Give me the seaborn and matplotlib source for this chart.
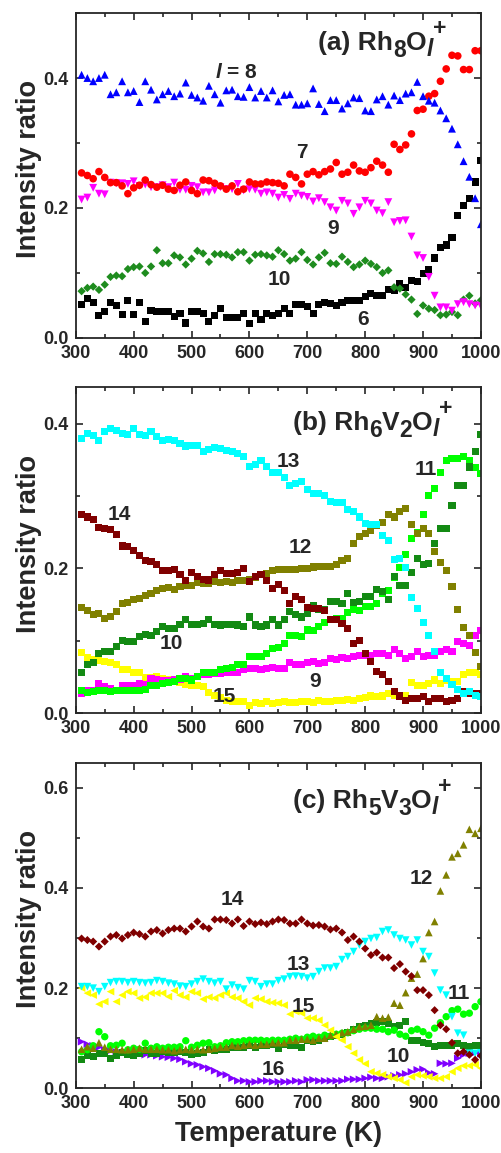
import numpy as np
import pandas as pd
import matplotlib
matplotlib.use("Agg")
import matplotlib.pyplot as plt
import matplotlib.transforms as mtransforms
from matplotlib.ticker import MultipleLocator
import seaborn as sns

# ---------------- data ----------------
T = list(range(310, 1001, 10))  # temperature grid (K)

# Panel (a) Rh8Ol+
a_l8 = [0.405,0.400,0.395,0.400,0.405,0.375,0.378,0.395,0.378,0.380,
        0.363,0.395,0.382,0.367,0.375,0.380,0.372,0.376,0.393,0.374,
        0.370,0.365,0.388,0.375,0.362,0.381,0.382,0.372,0.371,0.386,
        0.370,0.380,0.370,0.381,0.364,0.374,0.375,0.359,0.359,0.361,
        0.384,0.360,0.349,0.366,0.366,0.353,0.361,0.370,0.369,0.350,
        0.349,0.367,0.372,0.359,0.373,0.366,0.376,0.378,0.394,0.372,
        0.365,0.362,0.350,0.338,0.322,0.298,0.272,0.248,0.215,0.175]
a_l7 = [0.254,0.250,0.245,0.256,0.247,0.239,0.239,0.234,0.222,0.231,
        0.235,0.243,0.236,0.232,0.235,0.229,0.227,0.235,0.240,0.227,
        0.222,0.243,0.242,0.238,0.234,0.229,0.234,0.225,0.229,0.240,
        0.237,0.237,0.240,0.239,0.238,0.234,0.252,0.247,0.237,0.252,
        0.256,0.251,0.256,0.260,0.270,0.252,0.255,0.266,0.257,0.255,
        0.262,0.272,0.266,0.255,0.298,0.290,0.297,0.314,0.350,0.352,
        0.372,0.376,0.395,0.414,0.435,0.434,0.413,0.413,0.442,0.442]
a_l9 = [0.213,0.216,0.231,0.222,0.221,0.239,0.238,0.238,0.237,0.241,
        0.234,0.236,0.232,0.232,0.235,0.232,0.239,0.228,0.228,0.234,
        0.232,0.224,0.224,0.227,0.232,0.229,0.229,0.237,0.227,0.229,
        0.228,0.222,0.224,0.222,0.216,0.220,0.214,0.222,0.219,0.217,
        0.210,0.215,0.209,0.201,0.196,0.211,0.207,0.191,0.201,0.211,
        0.207,0.196,0.192,0.209,0.178,0.180,0.181,0.156,0.127,0.123,
        0.094,0.065,0.047,0.047,0.042,0.052,0.055,0.052,0.050,0.049]
a_l10 = [0.072,0.077,0.079,0.074,0.082,0.094,0.096,0.095,0.106,0.109,
         0.110,0.100,0.110,0.135,0.115,0.115,0.127,0.124,0.113,0.122,
         0.134,0.130,0.117,0.129,0.129,0.128,0.124,0.132,0.132,0.119,
         0.128,0.129,0.127,0.125,0.135,0.129,0.119,0.122,0.132,0.120,
         0.113,0.124,0.131,0.115,0.114,0.125,0.117,0.109,0.113,0.119,
         0.114,0.109,0.100,0.104,0.078,0.076,0.067,0.059,0.037,0.050,
         0.045,0.043,0.035,0.036,0.040,0.035,0.059,0.065,0.053,0.058]
a_l6 = [0.052,0.060,0.054,0.035,0.040,0.054,0.050,0.036,0.058,0.036,
        0.055,0.025,0.042,0.040,0.040,0.041,0.033,0.037,0.023,0.040,
        0.040,0.037,0.025,0.035,0.045,0.031,0.032,0.032,0.038,0.022,
        0.037,0.028,0.038,0.035,0.037,0.045,0.038,0.052,0.051,0.049,
        0.037,0.052,0.055,0.053,0.050,0.055,0.057,0.058,0.057,0.064,
        0.068,0.065,0.065,0.074,0.073,0.084,0.078,0.089,0.087,0.099,
        0.105,0.123,0.139,0.143,0.154,0.189,0.204,0.214,0.240,0.273]

# Panel (b) Rh6V2Ol+
b_l13 = [0.379,0.386,0.383,0.376,0.389,0.393,0.390,0.386,0.385,0.393,
         0.385,0.383,0.389,0.382,0.377,0.378,0.376,0.373,0.369,0.370,
         0.370,0.361,0.364,0.367,0.366,0.363,0.361,0.359,0.354,0.341,
         0.343,0.349,0.341,0.333,0.332,0.326,0.315,0.317,0.320,0.309,
         0.303,0.304,0.301,0.292,0.291,0.291,0.281,0.278,0.271,0.262,
         0.261,0.261,0.245,0.239,0.212,0.214,0.201,0.160,0.145,0.126,
         0.108,0.085,0.057,0.048,0.040,0.033,0.028,0.030,0.025,0.023]
b_l14 = [0.275,0.271,0.268,0.256,0.255,0.254,0.247,0.231,0.230,0.225,
         0.218,0.211,0.209,0.205,0.197,0.197,0.199,0.192,0.183,0.194,
         0.189,0.185,0.184,0.192,0.197,0.193,0.193,0.195,0.200,0.182,
         0.189,0.192,0.183,0.172,0.178,0.170,0.152,0.161,0.157,0.146,
         0.145,0.145,0.142,0.129,0.130,0.124,0.117,0.096,0.100,0.083,
         0.072,0.058,0.053,0.044,0.030,0.024,0.018,0.021,0.021,0.023,
         0.016,0.021,0.021,0.017,0.018,0.021,0.030,0.028,0.027,0.027]
b_l12 = [0.146,0.142,0.137,0.138,0.131,0.134,0.140,0.152,0.153,0.157,
         0.159,0.163,0.166,0.170,0.172,0.174,0.171,0.175,0.176,0.177,
         0.180,0.179,0.179,0.182,0.180,0.182,0.180,0.183,0.183,0.184,
         0.188,0.192,0.193,0.197,0.199,0.199,0.198,0.199,0.200,0.200,
         0.202,0.203,0.203,0.203,0.205,0.211,0.214,0.234,0.244,0.248,
         0.253,0.260,0.263,0.274,0.271,0.278,0.283,0.261,0.248,0.255,
         0.248,0.223,0.208,0.197,0.175,0.143,0.119,0.108,0.084,0.065]
b_l10 = [0.056,0.067,0.070,0.083,0.085,0.086,0.092,0.100,0.099,0.099,
         0.106,0.109,0.108,0.113,0.120,0.117,0.117,0.123,0.130,0.123,
         0.123,0.124,0.129,0.123,0.122,0.123,0.123,0.122,0.120,0.133,
         0.122,0.120,0.122,0.130,0.122,0.130,0.140,0.136,0.133,0.138,
         0.149,0.143,0.143,0.154,0.154,0.152,0.165,0.153,0.154,0.161,
         0.161,0.171,0.168,0.157,0.189,0.177,0.177,0.195,0.214,0.206,
         0.207,0.234,0.255,0.255,0.287,0.315,0.315,0.340,0.362,0.385]
b_l11 = [0.031,0.029,0.030,0.031,0.032,0.030,0.031,0.032,0.032,0.032,
         0.031,0.033,0.039,0.038,0.041,0.042,0.044,0.048,0.048,0.046,
         0.051,0.056,0.057,0.057,0.061,0.062,0.063,0.067,0.068,0.079,
         0.079,0.079,0.083,0.090,0.091,0.097,0.108,0.108,0.106,0.115,
         0.114,0.120,0.125,0.129,0.131,0.131,0.139,0.143,0.142,0.147,
         0.148,0.152,0.166,0.170,0.188,0.201,0.219,0.241,0.249,0.275,
         0.301,0.310,0.333,0.349,0.352,0.352,0.355,0.349,0.339,0.331]
b_l9 = [0.027,0.031,0.032,0.041,0.037,0.034,0.032,0.039,0.039,0.039,
        0.041,0.040,0.048,0.046,0.045,0.045,0.047,0.047,0.051,0.048,
        0.051,0.053,0.054,0.055,0.055,0.056,0.057,0.057,0.060,0.062,
        0.062,0.060,0.062,0.063,0.062,0.062,0.070,0.067,0.068,0.070,
        0.071,0.069,0.070,0.076,0.074,0.077,0.076,0.079,0.080,0.080,
        0.080,0.083,0.082,0.080,0.088,0.082,0.076,0.079,0.085,0.079,
        0.080,0.080,0.085,0.088,0.086,0.099,0.097,0.094,0.108,0.114]
b_l15 = [0.084,0.077,0.074,0.073,0.071,0.070,0.068,0.061,0.060,0.057,
         0.056,0.050,0.050,0.051,0.048,0.046,0.045,0.042,0.040,0.039,
         0.039,0.037,0.029,0.025,0.022,0.018,0.016,0.017,0.017,0.011,
         0.015,0.014,0.016,0.014,0.015,0.016,0.015,0.015,0.016,0.017,
         0.015,0.018,0.017,0.017,0.018,0.018,0.019,0.018,0.021,0.022,
         0.024,0.023,0.024,0.027,0.025,0.025,0.024,0.042,0.039,0.039,
         0.041,0.046,0.041,0.046,0.044,0.044,0.054,0.056,0.056,0.054]

# Panel (c) Rh5V3Ol+
c_l14 = [0.299,0.296,0.293,0.283,0.293,0.303,0.306,0.299,0.306,0.311,
         0.308,0.303,0.313,0.316,0.309,0.316,0.319,0.319,0.313,0.323,
         0.333,0.323,0.319,0.337,0.337,0.336,0.329,0.337,0.324,0.333,
         0.328,0.331,0.328,0.333,0.337,0.336,0.329,0.329,0.337,0.329,
         0.325,0.326,0.323,0.317,0.319,0.311,0.296,0.303,0.293,0.279,
         0.266,0.271,0.261,0.261,0.240,0.248,0.233,0.224,0.196,0.196,
         0.186,0.156,0.126,0.118,0.091,0.070,0.073,0.067,0.057,0.065]
c_l13 = [0.203,0.203,0.200,0.193,0.203,0.211,0.213,0.213,0.211,0.213,
         0.211,0.210,0.211,0.215,0.213,0.210,0.208,0.204,0.203,0.208,
         0.213,0.218,0.213,0.210,0.213,0.198,0.206,0.201,0.198,0.215,
         0.213,0.203,0.208,0.208,0.215,0.218,0.223,0.224,0.223,0.220,
         0.223,0.233,0.240,0.240,0.243,0.257,0.263,0.273,0.286,0.293,
         0.299,0.301,0.313,0.316,0.306,0.299,0.296,0.286,0.296,0.273,
         0.263,0.230,0.196,0.186,0.143,0.110,0.106,0.070,0.070,0.071]
c_l15 = [0.200,0.190,0.186,0.168,0.173,0.193,0.173,0.186,0.193,0.190,
         0.180,0.182,0.190,0.190,0.190,0.183,0.195,0.186,0.182,0.193,
         0.190,0.178,0.182,0.180,0.186,0.190,0.182,0.180,0.173,0.166,
         0.180,0.178,0.173,0.171,0.170,0.166,0.148,0.153,0.150,0.140,
         0.140,0.136,0.126,0.116,0.103,0.096,0.083,0.070,0.057,0.049,
         0.033,0.030,0.027,0.023,0.020,0.017,0.011,0.023,0.027,0.025,
         0.023,0.020,0.020,0.023,0.033,0.040,0.045,0.045,0.047,0.040]
c_l12 = [0.078,0.083,0.080,0.091,0.082,0.078,0.078,0.077,0.077,0.078,
         0.080,0.078,0.078,0.078,0.077,0.077,0.075,0.077,0.078,0.077,
         0.078,0.077,0.078,0.080,0.082,0.082,0.086,0.084,0.086,0.088,
         0.086,0.088,0.088,0.091,0.091,0.091,0.096,0.096,0.098,0.098,
         0.096,0.100,0.100,0.106,0.108,0.111,0.113,0.118,0.123,0.124,
         0.126,0.143,0.140,0.142,0.170,0.166,0.191,0.220,0.228,0.259,
         0.311,0.333,0.394,0.426,0.462,0.469,0.486,0.517,0.509,0.519]
c_l11 = [0.073,0.077,0.085,0.113,0.103,0.085,0.086,0.090,0.077,0.080,
         0.078,0.090,0.080,0.083,0.080,0.082,0.082,0.083,0.095,0.082,
         0.086,0.090,0.091,0.083,0.085,0.091,0.093,0.093,0.095,0.096,
         0.096,0.096,0.095,0.096,0.096,0.096,0.098,0.100,0.098,0.102,
         0.104,0.102,0.106,0.104,0.108,0.110,0.111,0.115,0.118,0.120,
         0.120,0.118,0.118,0.113,0.116,0.108,0.104,0.115,0.118,0.113,
         0.106,0.120,0.131,0.143,0.155,0.158,0.148,0.150,0.163,0.173]
c_l10 = [0.057,0.065,0.063,0.069,0.070,0.060,0.065,0.071,0.067,0.065,
         0.070,0.075,0.070,0.070,0.073,0.071,0.071,0.073,0.071,0.067,
         0.069,0.071,0.077,0.075,0.078,0.078,0.082,0.082,0.082,0.085,
         0.082,0.085,0.085,0.088,0.080,0.088,0.086,0.085,0.082,0.095,
         0.093,0.096,0.100,0.104,0.106,0.108,0.111,0.118,0.123,0.126,
         0.130,0.131,0.133,0.130,0.123,0.126,0.133,0.096,0.095,0.091,
         0.090,0.083,0.085,0.085,0.085,0.090,0.085,0.083,0.086,0.085]
c_l16 = [0.093,0.088,0.085,0.082,0.077,0.075,0.073,0.071,0.070,0.070,
         0.069,0.067,0.067,0.065,0.063,0.062,0.060,0.058,0.053,0.049,
         0.047,0.043,0.040,0.035,0.029,0.027,0.020,0.015,0.015,0.013,
         0.013,0.015,0.015,0.013,0.013,0.013,0.013,0.015,0.013,0.017,
         0.017,0.015,0.015,0.015,0.015,0.015,0.018,0.018,0.018,0.020,
         0.022,0.020,0.020,0.023,0.025,0.027,0.029,0.033,0.037,0.038,
         0.031,0.029,0.050,0.049,0.050,0.060,0.067,0.070,0.071,0.069]

# ---------------- style ----------------
sns.set_style("ticks")
plt.rcParams['font.family'] = ['Liberation Sans', 'DejaVu Sans']
plt.rcParams['font.weight'] = 'bold'
plt.rcParams['mathtext.fontset'] = 'custom'
plt.rcParams['mathtext.rm'] = 'Liberation Sans:bold'
plt.rcParams['mathtext.bf'] = 'Liberation Sans:bold'
plt.rcParams['mathtext.it'] = 'Liberation Sans:bold:italic'
plt.rcParams['mathtext.sf'] = 'Liberation Sans:bold'

fig = plt.figure(figsize=(5.02, 11.53), dpi=100)
ax_a = fig.add_axes([0.151, 0.7069, 0.807, 0.2818])
ax_b = fig.add_axes([0.151, 0.3813, 0.807, 0.2828])
ax_c = fig.add_axes([0.151, 0.0561, 0.807, 0.2824])

def draw(ax, series):
    for y, marker, color, size in series:
        sns.scatterplot(x=T, y=y, ax=ax, marker=marker, color=color, s=size,
                        linewidth=0, edgecolor='none', legend=False)

draw(ax_a, [
    (a_l6, 's', 'black', 26),
    (a_l10, 'D', '#1e8c1e', 18),
    (a_l9, 'v', '#ff00ff', 32),
    (a_l7, 'o', '#ff0000', 30),
    (a_l8, '^', '#0000ff', 32),
])
draw(ax_b, [
    (b_l15, 's', '#ffff00', 26),
    (b_l9, 's', '#ff00ff', 26),
    (b_l11, 's', '#00ff00', 26),
    (b_l10, 's', '#138a13', 26),
    (b_l12, 's', '#808000', 26),
    (b_l14, 's', '#800000', 26),
    (b_l13, 's', '#00ffff', 26),
])
draw(ax_c, [
    (c_l16, '>', '#8000ff', 30),
    (c_l10, 's', '#138a13', 24),
    (c_l11, 'o', '#00ff00', 28),
    (c_l12, '^', '#808000', 30),
    (c_l15, '<', '#ffff00', 30),
    (c_l13, 'v', '#00ffff', 30),
    (c_l14, 'D', '#800000', 17),
])

ylims = [(0, 0.5), (0, 0.45), (0, 0.65)]
for ax, yl in zip([ax_a, ax_b, ax_c], ylims):
    ax.set_xlim(300, 1000)
    ax.set_ylim(*yl)
    ax.xaxis.set_major_locator(MultipleLocator(100))
    ax.xaxis.set_minor_locator(MultipleLocator(50))
    ax.yaxis.set_major_locator(MultipleLocator(0.2))
    ax.yaxis.set_minor_locator(MultipleLocator(0.1))
    ax.yaxis.set_major_formatter(matplotlib.ticker.FormatStrFormatter('%.1f'))
    ax.tick_params(which='both', direction='in', top=True, right=True,
                   width=1.2, labelsize=13, pad=5)
    ax.tick_params(which='major', length=5)
    ax.tick_params(which='minor', length=3)
    for sp in ax.spines.values():
        sp.set_linewidth(1.3)
        sp.set_visible(True)
    for lab in ax.get_xticklabels() + ax.get_yticklabels():
        lab.set_fontweight('bold')
    ax.set_ylabel('Intensity ratio', fontsize=19.5, fontweight='bold')
    ax.yaxis.set_label_coords(-0.083, 0.52)
    ax.set_xlabel('')

ax_c.set_xlabel('Temperature (K)', fontsize=19.5, fontweight='bold', labelpad=6)

# panel titles (large sub/superscripts, as in the original)
renderer = fig.canvas.get_renderer()

def rich_title(ax, x, y, segs):
    dx = 0.0
    for s, size, dy, style in segs:
        tr = mtransforms.offset_copy(ax.transAxes, fig=fig, x=dx, y=dy, units='dots')
        t = ax.text(x, y, s, transform=tr, fontsize=size, fontweight='bold',
                    fontstyle=style, ha='left', va='baseline')
        dx += t.get_window_extent(renderer=renderer).width

BIG, SUB = 19, 16.5
rich_title(ax_a, 0.598, 0.887, [('(a) Rh', BIG, 0, 'normal'), ('8', SUB, -7, 'normal'),
                                ('O', BIG, 0, 'normal'), ('l', SUB, -6, 'italic'),
                                ('+', SUB, 15, 'normal')])
rich_title(ax_b, 0.535, 0.869, [('(b) Rh', BIG, 0, 'normal'), ('6', SUB, -7, 'normal'),
                                ('V', BIG, 0, 'normal'), ('2', SUB, -7, 'normal'),
                                ('O', BIG, 0, 'normal'), ('l', SUB, -6, 'italic'),
                                ('+', SUB, 15, 'normal')])
rich_title(ax_c, 0.537, 0.862, [('(c) Rh', BIG, 0, 'normal'), ('5', SUB, -7, 'normal'),
                                ('V', BIG, 0, 'normal'), ('3', SUB, -7, 'normal'),
                                ('O', BIG, 0, 'normal'), ('l', SUB, -6, 'italic'),
                                ('+', SUB, 15, 'normal')])

# series labels
lab_kw = dict(ha='center', va='center', fontsize=15, fontweight='bold')
for ax, labels in [
    (ax_a, [(578, 0.409, r'$l$ = 8'), (690, 0.285, '7'), (745, 0.168, '9'),
            (651, 0.0895, '10'), (797, 0.028, '6')]),
    (ax_b, [(667, 0.347, '13'), (905, 0.337, '11'), (375, 0.274, '14'),
            (688, 0.229, '12'), (465, 0.0966, '10'), (713, 0.0437, '9'),
            (556, 0.023, '15')]),
    (ax_c, [(571, 0.376, '14'), (684, 0.248, '13'), (693, 0.164, '15'),
            (897, 0.419, '12'), (961, 0.190, '11'), (857, 0.0645, '10'),
            (642, 0.038, '16')]),
]:
    for x, y, s in labels:
        ax.text(x, y, s, **lab_kw)

fig.savefig('out.png', dpi=100)
